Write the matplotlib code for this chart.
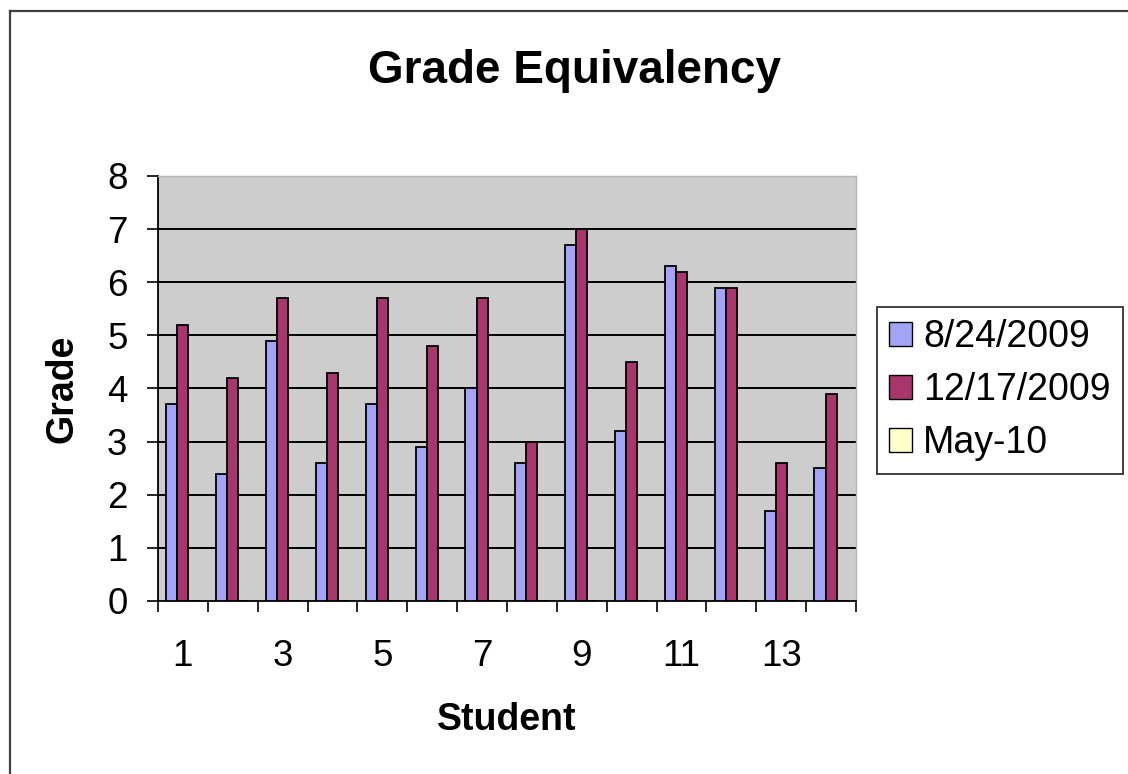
import numpy as np
import matplotlib
matplotlib.use("Agg")
import matplotlib.pyplot as plt
from matplotlib.patches import Patch
from matplotlib.lines import Line2D

plt.rcParams['font.family'] = ['Liberation Sans', 'DejaVu Sans']

# Colors
BLUE = '#A4A4F6'
RED = '#A8366C'
YELLOW = '#FFFFCC'
PLOT_BG = '#CDCDCD'

# Data
students = list(range(1, 15))
series_names = ['8/24/2009', '12/17/2009', 'May-10']
aug_2009 = [3.7, 2.4, 4.9, 2.6, 3.7, 2.9, 4.0, 2.6, 6.7, 3.2, 6.3, 5.9, 1.7, 2.5]
dec_2009 = [5.2, 4.2, 5.7, 4.3, 5.7, 4.8, 5.7, 3.0, 7.0, 4.5, 6.2, 5.9, 2.6, 3.9]
may_2010 = [0, 0, 0, 0, 0, 0, 0, 0, 0, 0, 0, 0, 0, 0]
tick_labels = [str(s) if s % 2 == 1 else '' for s in students]

W, H = 1128, 774
fig = plt.figure(figsize=(W / 100, H / 100), dpi=100)
fig.patch.set_facecolor('white')
ax = fig.add_axes([158 / W, 1 - 601 / H, (856 - 158) / W, (601 - 176) / H])
ax.set_facecolor(PLOT_BG)

n = len(students)
centers = np.arange(n) + 0.5
w = 1 / 4.5
for vals, col, off in [(aug_2009, BLUE, -1), (dec_2009, RED, 0), (may_2010, YELLOW, 1)]:
    ax.bar(centers + off * w, vals, width=w, color=col, edgecolor='black',
           linewidth=1.3, zorder=3)

ax.set_xlim(0, n)
ax.set_ylim(0, 8)
ax.set_yticks(range(0, 9))
ax.set_xticks(range(0, n + 1))
ax.set_xticklabels([])
ax.set_xticks(centers, minor=True)
ax.set_xticklabels(tick_labels, minor=True)

ax.tick_params(axis='y', which='major', length=8, width=1.2, direction='out',
               labelsize=26.5, pad=14)
ax.tick_params(axis='x', which='major', length=8, width=1.2, direction='out')
ax.tick_params(axis='x', which='minor', length=0, labelsize=26.5, pad=27)

for y in range(1, 8):
    ax.axhline(y, color='black', linewidth=1.4, zorder=1)

for s in ['left', 'bottom']:
    ax.spines[s].set_color('black')
    ax.spines[s].set_linewidth(1.3)
for s in ['top', 'right']:
    ax.spines[s].set_color('#B5B5B5')
    ax.spines[s].set_linewidth(1.0)

ax.set_ylabel('Grade', fontsize=27, fontweight='bold', va='center')
ax.yaxis.set_label_coords((62 - 158) / (856 - 158), 0.5)
ax.set_xlabel('Student', fontsize=27, fontweight='bold')
ax.xaxis.set_label_coords(0.5, -(720 - 601) / (601 - 176))
ax.xaxis.label.set_va('center')

fig.text(575 / W, 1 - 71 / H, 'Grade Equivalency', fontsize=33, fontweight='bold',
         ha='center', va='center')

handles = [Patch(facecolor=c, edgecolor='black', linewidth=1.0) for c in (BLUE, RED, YELLOW)]
leg = fig.legend(handles, series_names, loc='upper left',
                 bbox_to_anchor=(877 / W, 1 - 307 / H), borderaxespad=0,
                 fontsize=27, frameon=True, fancybox=False, edgecolor='black',
                 handlelength=0.6, handleheight=0.6, handletextpad=0.3,
                 labelspacing=0.45, borderpad=0.33)
leg.get_frame().set_linewidth(1.3)

# chart area border (left and top edges)
fig.add_artist(Line2D([10 / W, 10 / W], [0, 1 - 11 / H], color='#404040', linewidth=1.6))
fig.add_artist(Line2D([10 / W, 1], [1 - 11 / H, 1 - 11 / H], color='#404040', linewidth=1.6))

fig.savefig('out.png', dpi=100, facecolor='white')
